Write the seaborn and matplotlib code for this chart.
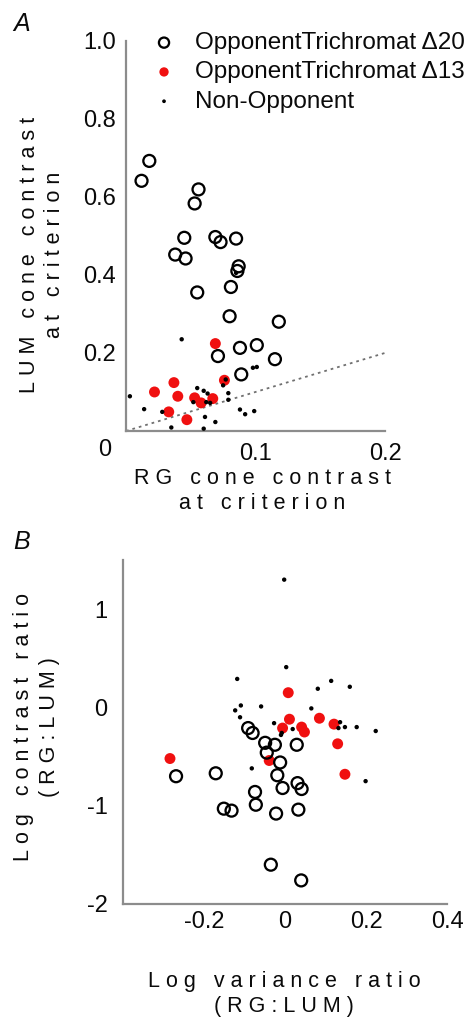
import matplotlib
matplotlib.use("Agg")
import matplotlib.pyplot as plt
import seaborn as sns

# ---------------- data ----------------
# Panel A: RG vs LUM cone contrast at criterion
a_open_x = [0.012, 0.018, 0.056, 0.053, 0.045, 0.069, 0.073, 0.085, 0.038, 0.046, 0.087,
            0.086, 0.055, 0.081, 0.080, 0.118, 0.088, 0.101, 0.071, 0.115, 0.089]
a_open_y = [0.641, 0.692, 0.619, 0.583, 0.495, 0.497, 0.484, 0.493, 0.452, 0.442, 0.422,
            0.410, 0.355, 0.369, 0.294, 0.280, 0.213, 0.220, 0.192, 0.184, 0.145]
a_red_x = [0.069, 0.076, 0.037, 0.022, 0.040, 0.053, 0.058, 0.067, 0.033, 0.047]
a_red_y = [0.224, 0.130, 0.124, 0.100, 0.089, 0.085, 0.072, 0.083, 0.049, 0.029]
a_dot_x = [0.043, 0.003, 0.014, 0.028, 0.035, 0.055, 0.060, 0.063, 0.052, 0.062, 0.065, 0.061,
           0.069, 0.060, 0.079, 0.079, 0.077, 0.075, 0.088, 0.092, 0.099, 0.098, 0.101, 0.085]
a_dot_y = [0.235, 0.089, 0.056, 0.049, 0.009, 0.110, 0.103, 0.096, 0.074, 0.074, 0.072, 0.036,
           0.023, 0.006, 0.097, 0.080, 0.132, 0.117, 0.055, 0.043, 0.051, 0.162, 0.164, 0.405]
diag_x = [0.0, 0.2]
diag_y = [0.0, 0.2]

# Panel B: log variance ratio vs log contrast ratio
b_open_x = [-0.091, -0.080, -0.049, -0.025, -0.045, 0.029, -0.012, -0.019, -0.269, -0.171, -0.006,
            0.031, 0.041, -0.074, -0.072, -0.151, -0.132, -0.022, 0.033, -0.035, 0.040]
b_open_y = [-0.21, -0.26, -0.36, -0.38, -0.46, -0.38, -0.56, -0.69, -0.70, -0.67, -0.82,
            -0.77, -0.83, -0.86, -0.99, -1.03, -1.05, -1.08, -1.04, -1.60, -1.76]
b_red_x = [0.008, 0.011, -0.006, 0.041, 0.048, 0.085, 0.121, 0.130, -0.284, -0.039, 0.148]
b_red_y = [0.15, -0.12, -0.21, -0.20, -0.25, -0.11, -0.17, -0.37, -0.52, -0.54, -0.68]
b_dot_x = [-0.002, 0.003, -0.118, 0.114, 0.081, 0.160, -0.109, -0.123, -0.059, 0.065, -0.111,
           -0.027, 0.019, 0.136, 0.148, 0.177, 0.224, 0.132, -0.010, -0.082, 0.199, -0.008]
b_dot_y = [1.30, 0.41, 0.29, 0.27, 0.19, 0.21, 0.02, -0.03, 0.01, -0.01, -0.10,
           -0.16, -0.22, -0.15, -0.20, -0.20, -0.24, -0.21, -0.28, -0.62, -0.75, -0.26]

series_labels = ["OpponentTrichromat \u039420", "OpponentTrichromat \u039413", "Non-Opponent"]
a_xticks = [0.05, 0.1, 0.15, 0.2]
a_xticklabels = ["", "0.1", "", "0.2"]
a_yticks = [0.2, 0.4, 0.6, 0.8, 1.0]
a_yticklabels = ["0.2", "0.4", "0.6", "0.8", "1.0"]
b_xticks = [-0.4, -0.2, 0.0, 0.2, 0.4]
b_xticklabels = ["", "-0.2", "0", "0.2", "0.4"]
b_yticks = [-2, -1.5, -1, -0.5, 0, 0.5, 1]
b_yticklabels = ["-2", "", "-1", "", "0", "", "1"]

# ---------------- style ----------------
sns.set_theme(style="white")
plt.rcParams["font.family"] = ["Liberation Sans", "DejaVu Sans"]
plt.rcParams["axes.unicode_minus"] = False

W, H = 469, 1021
SPINE = "#8c8c8c"
INK = "#0a0a0a"


def spaced(s):
    return "\u2009\u200a".join(s)


def fx(px):
    return px / W


def fy(py):
    return 1 - py / H


fig = plt.figure(figsize=(W / 100, H / 100), dpi=100)
fig.patch.set_facecolor("white")

axA = fig.add_axes([fx(126), fy(431), fx(385) - fx(126), fy(40.7) - fy(431)])
axB = fig.add_axes([fx(123), fy(904), fx(447) - fx(123), fy(560) - fy(904)])

open_kw = dict(marker="o", s=74, facecolor="none", edgecolor="black", linewidth=1.65)
red_kw = dict(marker="o", s=62, color="#f01010", edgecolor="none", linewidth=0)
dot_kw = dict(marker="o", s=10, color="black", edgecolor="none", linewidth=0)

# Panel A
axA.plot(diag_x, diag_y, linestyle=(0, (1.5, 2.2)), color="#707070", linewidth=1.3, zorder=1)
sns.scatterplot(x=a_open_x, y=a_open_y, ax=axA, label=series_labels[0], zorder=3, clip_on=False, **open_kw)
sns.scatterplot(x=a_red_x, y=a_red_y, ax=axA, label=series_labels[1], zorder=2, clip_on=False, **red_kw)
sns.scatterplot(x=a_dot_x, y=a_dot_y, ax=axA, label=series_labels[2], zorder=4, clip_on=False, **dot_kw)
axA.set_xlim(0, 0.2)
axA.set_ylim(0, 1.0)
axA.set_xticks(a_xticks)
axA.set_xticklabels(a_xticklabels)
axA.set_yticks(a_yticks)
axA.set_yticklabels(a_yticklabels)

# Panel B
sns.scatterplot(x=b_red_x, y=b_red_y, ax=axB, zorder=2, clip_on=False, **red_kw)
sns.scatterplot(x=b_open_x, y=b_open_y, ax=axB, zorder=3, clip_on=False, **open_kw)
sns.scatterplot(x=b_dot_x, y=b_dot_y, ax=axB, zorder=4, clip_on=False, **dot_kw)
axB.set_xlim(-0.4, 0.4)
axB.set_ylim(-2, 1.5)
axB.set_xticks(b_xticks)
axB.set_xticklabels(b_xticklabels)
axB.set_yticks(b_yticks)
axB.set_yticklabels(b_yticklabels)

for ax in (axA, axB):
    for side in ("top", "right"):
        ax.spines[side].set_visible(False)
    for side in ("left", "bottom"):
        ax.spines[side].set_color(SPINE)
        ax.spines[side].set_linewidth(1.6)
    ax.set_facecolor("white")
    ax.grid(False)
    ax.set_xlabel("")
    ax.set_ylabel("")
    ax.tick_params(direction="in", length=4, width=1, color=SPINE, labelsize=17,
                   labelcolor=INK)
axA.tick_params(axis="y", pad=7)
axA.tick_params(axis="x", pad=9)
axB.tick_params(axis="y", pad=11)
axB.tick_params(axis="x", pad=5)

# legend
leg = axA.legend(loc="upper left", bbox_to_anchor=(fx(147), fy(32)),
                 bbox_transform=fig.transFigure, frameon=False, fontsize=17.5,
                 handlelength=1.4, handletextpad=0.57, borderpad=0, borderaxespad=0,
                 labelspacing=0.3, markerscale=0.85)
for t in leg.get_texts():
    t.set_color(INK)

# corner "0" label of panel A
fig.text(fx(105), fy(450), "0", ha="center", va="center", fontsize=17, color=INK)

# panel letters
fig.text(fx(22), fy(24), "A", ha="center", va="center", fontsize=18, style="italic", color=INK)
fig.text(fx(22), fy(542), "B", ha="center", va="center", fontsize=18, style="italic", color=INK)

lab_kw = dict(fontsize=15.5, color=INK, ha="center", va="center", multialignment="center",
              linespacing=1.25)
fig.text(fx(42), fy(255), spaced("LUM cone contrast") + "\n" + spaced("at criterion"),
         rotation=90, **lab_kw)
fig.text(fx(262), fy(491), spaced("RG cone contrast") + "\n" + spaced("at criterion"), **lab_kw)
fig.text(fx(36.5), fy(727), spaced("Log contrast ratio") + "\n" + spaced("(RG:LUM)"),
         rotation=90, **lab_kw)
fig.text(fx(284), fy(994), spaced("Log variance ratio") + "\n" + spaced("(RG:LUM)"), **lab_kw)

fig.savefig("out.png", dpi=100, facecolor="white")
